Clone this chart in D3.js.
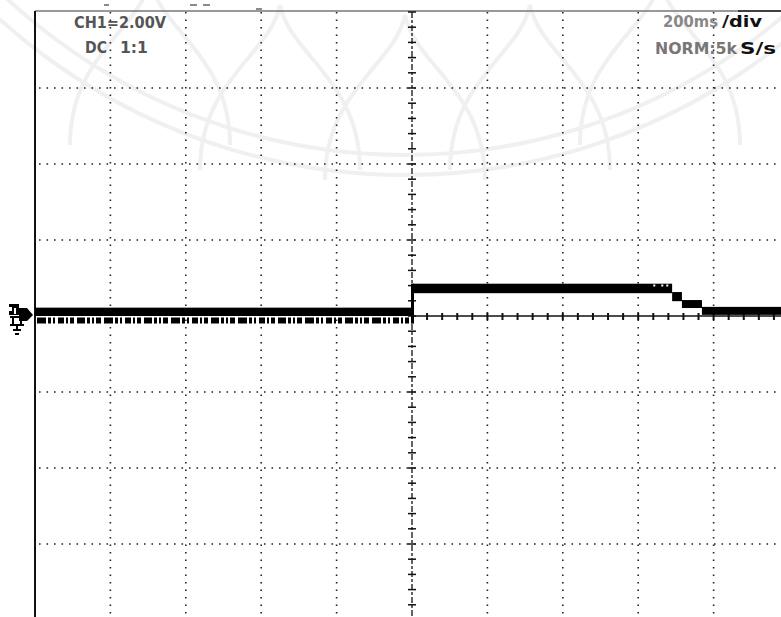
<!DOCTYPE html>
<html>
<head>
<meta charset="utf-8">
<script src="https://cdn.jsdelivr.net/npm/d3@7"></script>
<style>
  html, body { margin: 0; padding: 0; background: #fff; }
  svg { display: block; }
</style>
</head>
<body>
<svg id="scope" width="781" height="617"></svg>
<script>
// Scope capture: CH1 2 V/div, 200 ms/div, trigger at centre.
const timeDivs = [-1000, -800, -600, -400, -200, 0, 200, 400, 600, 800, 1000]; // ms
const voltDivs = [-8, -6, -4, -2, 0, 2, 4, 6, 8]; // V

// trace as noisy bands: each segment has a start/end time (ms) and min/max level (V)
const segStart = [-1000, 0, 690, 716, 769];
const segEnd = [0, 690, 716, 769, 1000];
const segMin = [0.0, 0.6, 0.39, 0.21, 0.03];
const segMax = [0.22, 0.85, 0.63, 0.42, 0.24];

// readout pieces: text, colour, left x, right x, baseline
const readouts = [
  ['CH1=2.00V', '#555', 74, 166, 28],
  ['DC', '#555', 85, 107, 53],
  ['1:1', '#555', 120, 148, 53],
  ['200ms', '#888', 663, 718, 27],
  ['/div', '#111', 722, 762, 27],
  ['NORM:5k', '#777', 655, 737, 54],
  ['S/s', '#111', 740, 776, 54]
];

const svg = d3.select('#scope');
const x = d3.scaleLinear().domain([-1000, 1000]).range([35, 789]);
const y = d3.scaleLinear().domain([-8, 8]).range([620, 12]);

// faint watermark seal behind everything
const wm = svg.append('g')
  .attr('fill', 'none')
  .attr('stroke', '#f0f0f0')
  .attr('stroke-width', 4);
const sealC = [405, -430];
[585, 605].forEach((r) => {
  wm.append('path')
    .attr('transform', `translate(${sealC})`)
    .attr('d', d3.arc()({ innerRadius: r, outerRadius: r, startAngle: Math.PI / 2 + 0.35, endAngle: Math.PI * 1.5 - 0.35 }));
});
// lotus petals
const petalX = [150, 280, 405, 530, 660];
const petalTop = [-20, 5, 15, 5, -20];
petalX.forEach((px, i) => {
  const w = 80, base = petalTop[i] + 165, tip = petalTop[i];
  wm.append('path')
    .attr('d', `M${px - w},${base} C${px - w},${base - 90} ${px - 10},${tip + 50} ${px},${tip} C${px + 10},${tip + 50} ${px + w},${base - 90} ${px + w},${base}`);
});

// dotted graticule
const grid = svg.append('g')
  .attr('stroke', '#222')
  .attr('stroke-width', 1.6)
  .attr('stroke-dasharray', '1.6,5.9');
grid.selectAll('.vg')
  .data(timeDivs.filter((t) => t !== 0 && t !== -1000))
  .join('line')
  .attr('x1', (d) => x(d)).attr('x2', (d) => x(d))
  .attr('y1', y(8)).attr('y2', 617);
grid.selectAll('.hg')
  .data(voltDivs.filter((v) => v !== 0 && Math.abs(v) !== 8))
  .join('line')
  .attr('x1', x(-1000) + 4).attr('x2', 781)
  .attr('y1', (d) => y(d)).attr('y2', (d) => y(d));

// top border
svg.append('line')
  .attr('x1', x(-1000)).attr('x2', 781)
  .attr('y1', y(8) - 1).attr('y2', y(8) - 1)
  .attr('stroke', '#777').attr('stroke-width', 1.5);
svg.append('line')
  .attr('x1', 738).attr('x2', 781)
  .attr('y1', y(8) - 1).attr('y2', y(8) - 1)
  .attr('stroke', '#222').attr('stroke-width', 1.5);

// left border
svg.append('line')
  .attr('x1', x(-1000)).attr('x2', x(-1000))
  .attr('y1', y(8) - 1).attr('y2', 617)
  .attr('stroke', '#111').attr('stroke-width', 2);

// small markers above the frame
svg.append('g').attr('stroke', '#666').attr('stroke-width', 1.5)
  .selectAll('line')
  .data([[104, 109, 5], [190, 197, 5], [203, 210, 5], [256, 262, 9]])
  .join('line')
  .attr('x1', (d) => d[0]).attr('x2', (d) => d[1])
  .attr('y1', (d) => d[2]).attr('y2', (d) => d[2]);

// centre axes with minor ticks
const minorT = d3.range(-1000, 1001, 40);
const minorV = d3.range(-8, 8.01, 0.4);
const axes = svg.append('g').attr('stroke', '#111');
axes.append('line')
  .attr('x1', x(0)).attr('x2', 781)
  .attr('y1', y(0)).attr('y2', y(0))
  .attr('stroke-width', 1.5);
axes.selectAll('.ht')
  .data(minorT.filter((t) => t > 0))
  .join('line')
  .attr('x1', (d) => x(d)).attr('x2', (d) => x(d))
  .attr('y1', y(0) - 3).attr('y2', y(0) + 4)
  .attr('stroke-width', 2);
axes.append('line')
  .attr('x1', x(0)).attr('x2', x(0))
  .attr('y1', y(8)).attr('y2', 617)
  .attr('stroke-width', 1.3)
  .attr('stroke-dasharray', '6,2,3,2');
axes.selectAll('.vt')
  .data(minorV)
  .join('line')
  .attr('x1', x(0) - 4).attr('x2', x(0) + 4)
  .attr('y1', (d) => y(d)).attr('y2', (d) => y(d))
  .attr('stroke-width', 1.5);

// trace bands
const segs = segStart.map((s, i) => ({ s, e: segEnd[i], lo: segMin[i], hi: segMax[i] }));
const trace = svg.append('g').attr('fill', '#000');
trace.selectAll('rect')
  .data(segs)
  .join('rect')
  .attr('x', (d) => x(d.s))
  .attr('width', (d) => x(d.e) - x(d.s))
  .attr('y', (d) => y(d.hi))
  .attr('height', (d) => y(d.lo) - y(d.hi));
// rising edge at trigger
trace.append('rect')
  .attr('x', x(0) - 1).attr('width', 3)
  .attr('y', y(segMax[1])).attr('height', y(segMin[0] - 0.2) - y(segMax[1]));
// noise fringe below the low level
svg.append('line')
  .attr('x1', x(-1000) + 2).attr('x2', x(0))
  .attr('y1', y(-0.12)).attr('y2', y(-0.12))
  .attr('stroke', '#000').attr('stroke-width', 6)
  .attr('stroke-dasharray', '9,2,3,2,2,3,6,2,2,2,4,3,8,2,3,2,2,2,5,3');
// ragged top on the end of the high level
svg.append('line')
  .attr('x1', x(640)).attr('x2', x(690))
  .attr('y1', y(0.8)).attr('y2', y(0.8))
  .attr('stroke', '#fff').attr('stroke-width', 2)
  .attr('stroke-dasharray', '2,6,2,3,2,4');
svg.append('line')
  .attr('x1', x(740)).attr('x2', x(769))
  .attr('y1', y(0.3)).attr('y2', y(0.3))
  .attr('stroke', '#000').attr('stroke-width', 4)
  .attr('stroke-dasharray', '3,2,2,2');

// ground / channel marker at the left
const gm = svg.append('g').attr('transform', `translate(21,${y(0)})`).attr('fill', '#000').attr('stroke', '#000');
gm.append('path').attr('d', 'M-12,-12 H-2 V-8 L6,-8 L12,-1 L6,5 H-2 V-1 H-12 V-5 H-9 V-9 H-12 Z').attr('stroke', 'none');
gm.append('path').attr('d', 'M-6,-8 V-2').attr('stroke', '#fff').attr('stroke-width', 2);
gm.append('path').attr('d', 'M-11,1 H3 M-8,1 V8 M0,1 V8 M-11,9 H3 M-4,9 V13 M-8,14 H0 M-6,18 H-2').attr('stroke-width', 2).attr('fill', 'none');

// readouts
svg.append('g')
  .attr('font-family', 'DejaVu Sans, sans-serif')
  .attr('font-weight', 'bold')
  .attr('font-size', 16)
  .selectAll('text')
  .data(readouts)
  .join('text')
  .attr('x', (d) => d[2])
  .attr('y', (d) => d[4])
  .attr('fill', (d) => d[1])
  .attr('textLength', (d) => d[3] - d[2])
  .attr('lengthAdjust', 'spacingAndGlyphs')
  .text((d) => d[0]);
</script>
</body>
</html>
